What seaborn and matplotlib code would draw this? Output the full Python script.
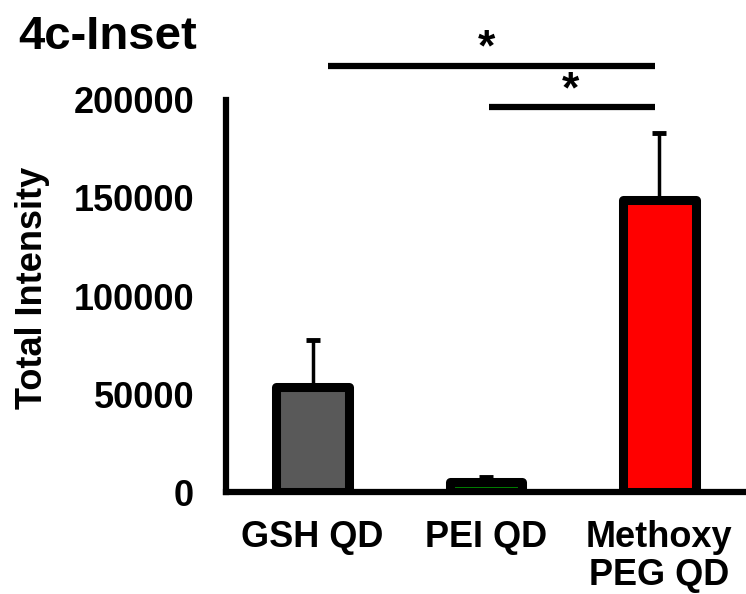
import matplotlib
matplotlib.use("Agg")
import matplotlib.pyplot as plt
import seaborn as sns
import pandas as pd

categories = ["GSH QD", "PEI QD", "Methoxy\nPEG QD"]
means = [53500, 5000, 149000]
errors = [24000, 2500, 34000]
colors = ["#595959", "#008000", "#ff0000"]
yticks = [0, 50000, 100000, 150000, 200000]
sig_lines = [(0.09, 1.975, 217500), (1.02, 1.975, 196500)]
sig_star_x = [1.0, 1.485]

sns.set_theme(style="white")
plt.rcParams["font.family"] = ["Liberation Sans", "DejaVu Sans"]
plt.rcParams["font.weight"] = "bold"
for k in ["text.color", "axes.labelcolor", "xtick.color", "ytick.color"]:
    plt.rcParams[k] = "black"

fig = plt.figure(figsize=(7.46, 5.94), dpi=100)
ax = fig.add_axes([226 / 746, 1 - 492 / 594, 1 - 226 / 746, (492 - 100) / 594])

df = pd.DataFrame({"cat": categories, "val": means})
sns.barplot(data=df, x="cat", y="val", hue="cat", palette=colors, legend=False,
            errorbar=None, width=0.42, linewidth=6.5, edgecolor="black", ax=ax,
            saturation=1, zorder=3)
for p in ax.patches:
    p.set_joinstyle("round")

ax.errorbar(range(3), means, yerr=[[0, 0, 0], errors], fmt="none", ecolor="black",
            elinewidth=2.5, capsize=5, capthick=3.5, zorder=2)

ax.set_xlim(-0.5, 2.5)
ax.set_ylim(0, 200000)
ax.set_yticks(yticks)
ax.set_yticklabels([str(v) for v in yticks], fontsize=26, fontweight="bold")
ax.set_xticks(range(3))
ax.set_xticklabels(categories, fontsize=26, fontweight="bold", linespacing=1.12)
ax.set_xticks([-0.5, 0.5, 1.5, 2.5], minor=True)
ax.tick_params(axis="x", which="major", length=0, pad=20)
ax.tick_params(axis="x", which="minor", length=6, width=4, direction="out", color="black")
ax.tick_params(axis="y", which="major", length=7, width=4, direction="out", color="black", pad=16)
ax.set_xlabel("")
ax.set_ylabel("Total Intensity", fontsize=26, fontweight="bold")
ax.yaxis.set_label_coords(-0.338, 0.52)

for s in ["top", "right"]:
    ax.spines[s].set_visible(False)
for s in ["left", "bottom"]:
    ax.spines[s].set_color("black")
    ax.spines[s].set_linewidth(4.5)

for (x0, x1, y), sx in zip(sig_lines, sig_star_x):
    ax.plot([x0, x1], [y, y], color="black", lw=4.5, clip_on=False, solid_capstyle="butt")
    ax.text(sx, y + 2500, "*", ha="center", va="baseline",
            fontsize=32, fontweight="bold", clip_on=False)

fig.text(18 / 746, 1 - 49 / 594, "4c-Inset", fontsize=34, fontweight="bold", va="baseline", ha="left")

fig.savefig("out.png", dpi=100)
